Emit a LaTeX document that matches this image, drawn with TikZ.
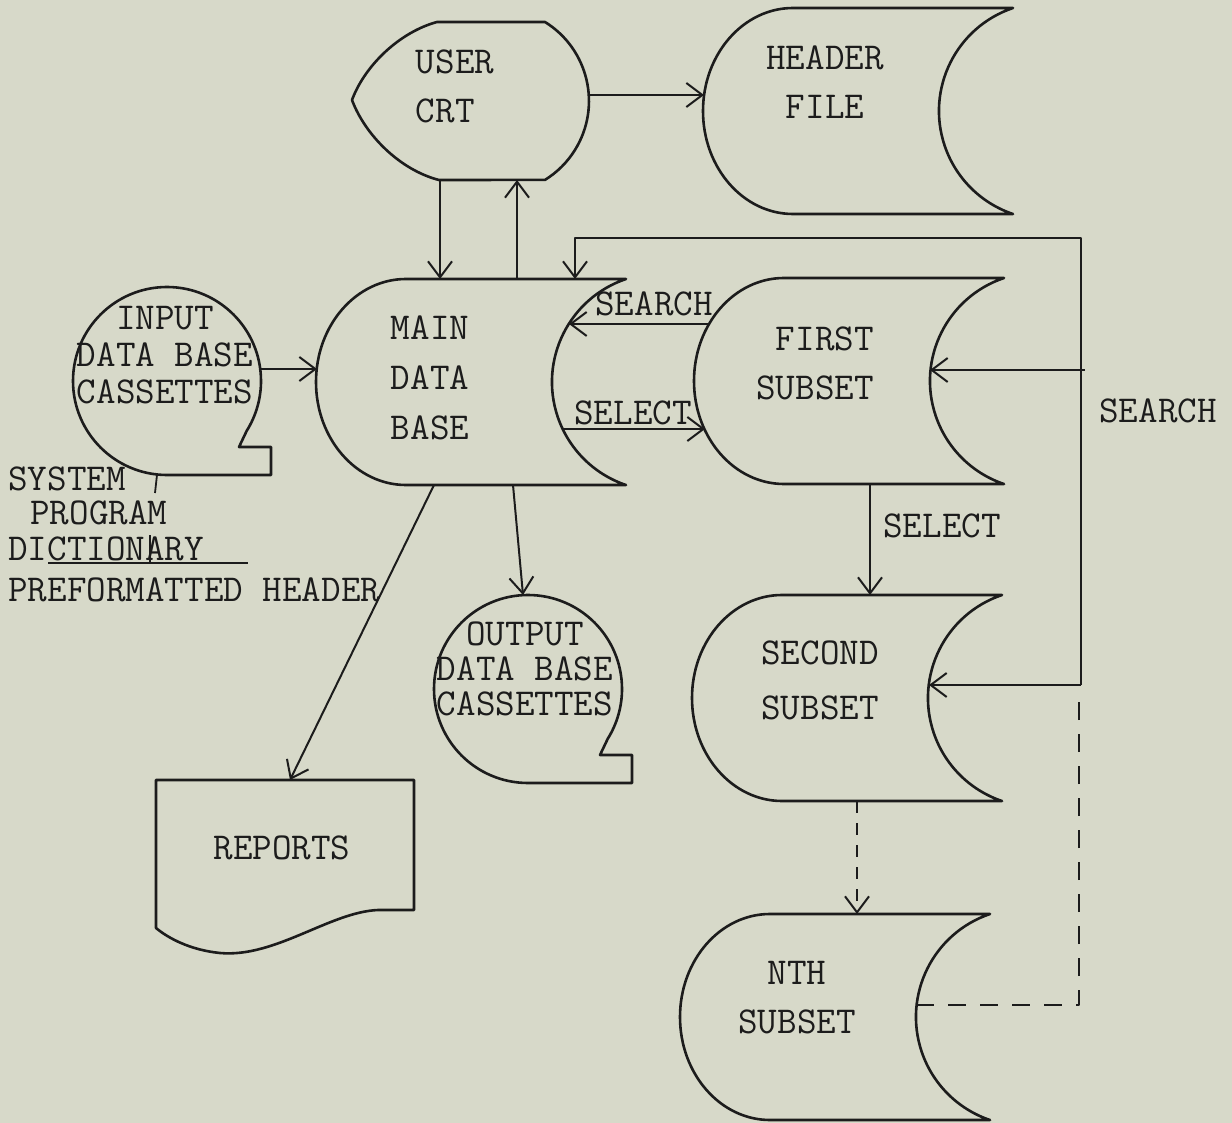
\documentclass[tikz,border=0pt]{standalone}
\usetikzlibrary{arrows.meta}

\definecolor{paper}{RGB}{215,217,201}
\definecolor{ink}{RGB}{28,28,28}

\begin{document}
\begin{tikzpicture}[
  x=0.5pt, y=-0.5pt,
  line join=round,
  outline/.style={draw=ink, line width=1.3pt},
  arr/.style={draw=ink, line width=1pt, -{Straight Barb[length=8pt,width=12pt]}},
  dashline/.style={draw=ink, line width=1pt, dash pattern=on 9pt off 7pt},
  pencil/.style={draw=ink, line width=0.9pt},
  lbl/.style={text=ink, inner sep=0pt, font=\ttfamily\fontsize{19}{24.5}\selectfont},
  tapetext/.style={lbl, align=center, font=\ttfamily\fontsize{19}{18.5}\selectfont},
  % stored data: origin at top left of its box
  stored/.pic={
    \draw[outline] (90,0) -- (310,0)
      arc[start angle=251.4, end angle=108.6, radius=108.7]
      -- (90,206)
      arc[start angle=90, end angle=270, x radius=90, y radius=103] -- cycle;
  },
  % magnetic tape: origin at the centre of the reel
  tape/.pic={
    \draw[outline] (0,94) arc[start angle=90, end angle=392, radius=94]
      -- (72,66) -- (104,66) -- (104,94) -- cycle;
  }
]
\useasboundingbox (0,0) rectangle (1232,1123);
\fill[paper] (0,0) rectangle (1232,1123);

% display
\draw[outline] (437,22) -- (545,22)
  arc[start angle=-58.2, end angle=58.2, radius=92.9]
  -- (439,180) .. controls (400,170) and (365,135) .. (352,100)
  .. controls (365,65) and (400,32) .. cycle;

% files
\pic at (703,8) {stored};
\pic at (316,279) {stored};
\pic at (694,278) {stored};
\pic at (692,595) {stored};
\pic at (680,914) {stored};

% cassettes
\pic at (167,381) {tape};
\pic at (528,689) {tape};

% document
\draw[outline] (156,780) -- (414,780) -- (414,910) -- (378,910)
  .. controls (330,912) and (275,958) .. (220,953)
  .. controls (190,950) and (168,938) .. (156,928) -- cycle;

% texts
\node[lbl, align=left] (crt) at (455,86) {USER\\CRT};
\node[lbl, align=center] (hdr) at (825,82) {HEADER\\FILE};
\node[lbl, align=center, font=\ttfamily\fontsize{19}{25}\selectfont] (main) at (430,378) {MAIN\\DATA\\BASE};
\node[lbl, align=right] (first) at (815,363) {FIRST\\SUBSET};
\node[lbl, align=center, font=\ttfamily\fontsize{19}{27.5}\selectfont] (second) at (820,680) {SECOND\\SUBSET};
\node[lbl, align=center] (nth) at (797,998) {NTH\\SUBSET};
\node[tapetext] (in) at (165,355) {INPUT\\DATA BASE\\CASSETTES};
\node[tapetext, font=\ttfamily\fontsize{19}{17.5}\selectfont] (out) at (525,669) {OUTPUT\\DATA BASE\\CASSETTES};
\node[lbl] (rep) at (282,848) {REPORTS};
\node[lbl] (srch1) at (654,304) {SEARCH};
\node[lbl] (sel1) at (633,413) {SELECT};
\node[lbl] (sel2) at (942,526) {SELECT};
\node[lbl] (srch2) at (1158,411) {SEARCH};
\node[lbl, anchor=west] (sys) at (8,479) {SYSTEM};
\node[lbl, anchor=west] (prog) at (30,513) {PROGRAM};
\node[lbl, anchor=west] (dict) at (8,549) {DICTIONARY};
\node[lbl, anchor=west] (pre) at (8,590) {PREFORMATTED HEADER};

% pencil marks
\draw[pencil] (157,475) -- (155,493);
\draw[pencil] (150,535) -- (150,563);
\draw[pencil] (48,563) -- (248,563);

% contact points
\coordinate (crt-r) at (589,95);
\coordinate (hdr-l) at (704,95);
\coordinate (crt-b1) at (440,180);
\coordinate (crt-b2) at (517,180);
\coordinate (main-t1) at (440,279);
\coordinate (main-t2) at (517,279);
\coordinate (main-t3) at (575,279);
\coordinate (in-r) at (260,369);
\coordinate (main-l) at (317,369);
\coordinate (main-r1) at (569,324);
\coordinate (main-r2) at (563,429);
\coordinate (first-l1) at (710,324);
\coordinate (first-l2) at (705,429);
\coordinate (main-b1) at (513,485);
\coordinate (main-b2) at (434,485);
\coordinate (out-t) at (523,595);
\coordinate (rep-t) at (290,780);
\coordinate (first-b) at (870,484);
\coordinate (first-r) at (930,370);
\coordinate (second-t) at (870,595);
\coordinate (second-r) at (929,685);
\coordinate (second-b) at (857,801);
\coordinate (nth-t) at (857,914);
\coordinate (nth-r) at (916,1005);
\coordinate (loop-tl) at (575,238);
\coordinate (loop-tr) at (1081,238);
\coordinate (loop-m) at (1085,370);
\coordinate (loop-b) at (1081,685);
\coordinate (loop-d) at (1079,1005);
\coordinate (loop-u) at (1079,692);

% flows
\draw[arr] (crt-r) -- (hdr-l);
\draw[arr] (crt-b1) -- (main-t1);
\draw[arr] (main-t2) -- (crt-b2);
\draw[arr] (in-r) -- (main-l);
\draw[arr] (first-l1) -- (main-r1);
\draw[arr] (main-r2) -- (first-l2);
\draw[arr] (main-b1) -- (out-t);
\draw[arr] (main-b2) -- (rep-t);
\draw[arr] (first-b) -- (second-t);
\draw[arr, dash pattern=on 6pt off 5pt] (second-b) -- (nth-t);
\draw[arr] (loop-b) -- (loop-tr) -- (loop-tl) -- (main-t3);
\draw[arr] (loop-m) -- (first-r);
\draw[arr] (loop-b) -- (second-r);
\draw[dashline] (nth-r) -- (loop-d) -- (loop-u);
\end{tikzpicture}
\end{document}
